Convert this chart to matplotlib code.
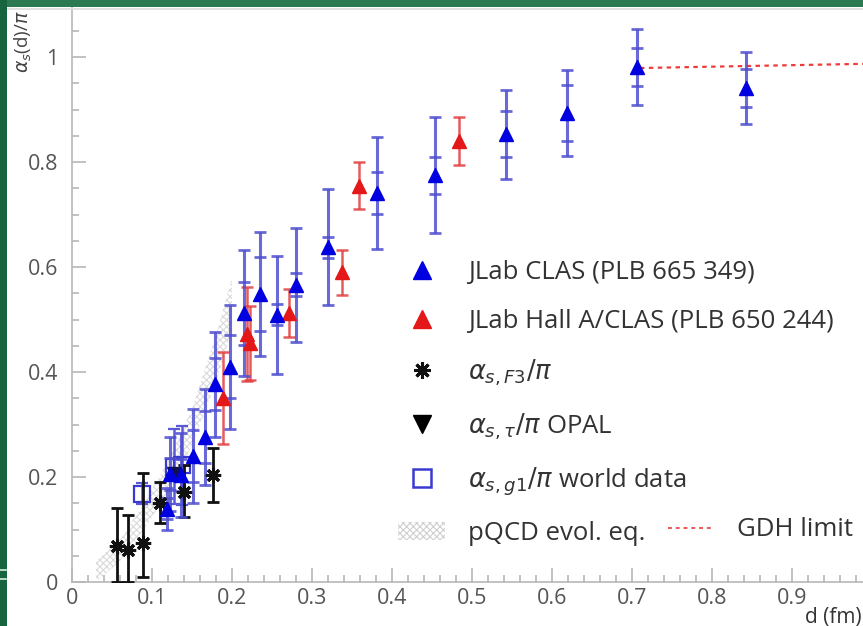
import matplotlib
matplotlib.use('Agg')
import matplotlib.pyplot as plt
from matplotlib.lines import Line2D
from matplotlib.patches import Patch, Rectangle
from matplotlib.ticker import MultipleLocator, FuncFormatter

plt.rcParams['font.family'] = ['Open Sans', 'DejaVu Sans']
plt.rcParams['hatch.linewidth'] = 0.8

# ---------------- data ----------------
# JLab CLAS (PLB 665 349): d, alpha/pi, total error, stat error
clas_d    = [0.8425, 0.706, 0.619, 0.5425, 0.454, 0.381, 0.320, 0.280, 0.256,
             0.235, 0.215, 0.197, 0.179, 0.166, 0.151, 0.136, 0.122, 0.119]
clas_a    = [0.941, 0.981, 0.893, 0.853, 0.775, 0.741, 0.638, 0.566, 0.509,
             0.549, 0.512, 0.410, 0.377, 0.276, 0.240, 0.204, 0.206, 0.140]
clas_tot  = [0.068, 0.073, 0.082, 0.085, 0.110, 0.106, 0.110, 0.108, 0.112,
             0.118, 0.120, 0.118, 0.100, 0.092, 0.090, 0.080, 0.070, 0.040]
clas_stat = [0.036, 0.037, 0.053, 0.044, 0.035, 0.040, 0.020, 0.022, 0.020,
             0.070, 0.060, 0.060, 0.050, 0.050, 0.050, 0.030, 0.030, 0.020]

# JLab Hall A/CLAS (PLB 650 244)
halla_d   = [0.484, 0.359, 0.3375, 0.271, 0.219, 0.222, 0.189]
halla_a   = [0.840, 0.755, 0.590, 0.513, 0.472, 0.455, 0.350]
halla_err = [0.045, 0.045, 0.043, 0.046, 0.090, 0.070, 0.088]

# alpha_s,F3 / pi
f3_d   = [0.056, 0.070, 0.089, 0.110, 0.140, 0.176]
f3_a   = [0.069, 0.061, 0.074, 0.150, 0.171, 0.204]
f3_lo  = [0.069, 0.061, 0.064, 0.038, 0.047, 0.052]
f3_hi  = [0.072, 0.067, 0.134, 0.040, 0.052, 0.051]

# alpha_s,tau / pi OPAL
opal_d   = [0.128]
opal_a   = [0.205]
opal_err = [0.010]

# alpha_s,g1 / pi world data
g1_d   = [0.0875, 0.127, 0.138]
g1_a   = [0.168, 0.220, 0.222]
g1_err = [0.020, 0.072, 0.075]

# pQCD evolution band
pqcd_d  = [0.030, 0.060, 0.090, 0.120, 0.150, 0.180, 0.200]
pqcd_lo = [0.000, 0.040, 0.100, 0.170, 0.260, 0.380, 0.480]
pqcd_hi = [0.040, 0.080, 0.150, 0.230, 0.330, 0.470, 0.580]

# GDH limit
gdh_d = [0.710, 0.990]
gdh_a = [0.979, 0.987]

labels = ['JLab CLAS (PLB 665 349)', 'JLab Hall A/CLAS (PLB 650 244)',
          r'$\alpha_{s,F3}/\pi$', r'$\alpha_{s,\tau}/\pi$ OPAL',
          r'$\alpha_{s,g1}/\pi$ world data', 'pQCD evol. eq.', 'GDH limit']

# ---------------- figure ----------------
W, H = 863, 626
fig = plt.figure(figsize=(W / 100, H / 100), dpi=100)
ax = fig.add_axes([72 / W, 44 / H, (W - 72) / W, (582 - 8) / H])

blue_bar = '#4f4fd0'
blue_mk = '#0000e0'
red_c = '#e41818'

ax.fill_between(pqcd_d, pqcd_lo, pqcd_hi, facecolor='none', edgecolor='#dadada',
                hatch='xxxxx', linewidth=0, zorder=1)

ax.errorbar(g1_d, g1_a, yerr=g1_err, fmt='s', mfc='none', mec='#3a3ad0', mew=1.6,
            ms=11, ecolor='#5a5ad6', elinewidth=1.8, capsize=4, capthick=1.8, zorder=3)

ax.errorbar(f3_d, f3_a, yerr=[f3_lo, f3_hi], fmt='none', ecolor='#111111',
            elinewidth=2, capsize=4, capthick=2, zorder=4)
ax.plot(f3_d, f3_a, linestyle='none', marker=(8, 2, 0), ms=11, mew=2.2,
        color='#111111', zorder=5)

ax.errorbar(opal_d, opal_a, yerr=opal_err, fmt='v', color='#101050', ms=10,
            elinewidth=1.5, capsize=3, zorder=5)

ax.errorbar(halla_d, halla_a, yerr=halla_err, fmt='none', ecolor='#e04040',
            elinewidth=1.8, capsize=4, capthick=1.8, alpha=0.85, zorder=4)
ax.plot(halla_d, halla_a, linestyle='none', marker='^', ms=10, color=red_c, zorder=6)

ax.errorbar(clas_d, clas_a, yerr=clas_tot, fmt='none', ecolor=blue_bar,
            elinewidth=2.2, capsize=4.5, capthick=2, alpha=0.85, zorder=4)
ax.errorbar(clas_d, clas_a, yerr=clas_stat, fmt='none', ecolor=blue_bar,
            elinewidth=0, capsize=4.5, capthick=2, alpha=0.85, zorder=4)
ax.plot(clas_d, clas_a, linestyle='none', marker='^', ms=10, color=blue_mk, zorder=6)

ax.plot(gdh_d, gdh_a, color='#ee3a3a', linestyle=(0, (2, 2)), lw=1.6, zorder=2)

# ---------------- axes styling ----------------
ax.set_xlim(0, (W - 72) / 800)
ax.set_ylim(0, (582 - 8) / 525)
for s in ['top', 'right']:
    ax.spines[s].set_visible(False)
for s in ['left', 'bottom']:
    ax.spines[s].set_color('#b8b8b8')
    ax.spines[s].set_linewidth(1.2)
ax.xaxis.set_major_locator(MultipleLocator(0.1))
ax.xaxis.set_minor_locator(MultipleLocator(0.02))
ax.yaxis.set_major_locator(MultipleLocator(0.2))
ax.yaxis.set_minor_locator(MultipleLocator(0.05))
fmt = FuncFormatter(lambda v, p: '%g' % round(v, 3))
ax.xaxis.set_major_formatter(fmt)
ax.yaxis.set_major_formatter(fmt)
ax.tick_params(which='both', direction='in', color='#b8b8b8', width=1.2,
               labelcolor='#555555', labelsize=15.5)
ax.tick_params(which='major', length=10)
ax.tick_params(which='minor', length=5)
ax.tick_params(axis='y', pad=10)
ax.tick_params(axis='x', pad=4)

ax.set_ylabel(r'$\alpha_s$(d)/$\pi$', fontsize=13.5, color='#444444')
ax.yaxis.label.set(rotation_mode='default', ha='center', va='top')
ax.yaxis.set_label_coords(-0.062, 1.0 - 2 / 574)
ax.set_xlabel('d (fm)', fontsize=15, color='#333333', loc='right')
ax.xaxis.set_label_coords((862 - 72) / (W - 72), -0.043)

# ---------------- legends ----------------
handles = [
    Line2D([], [], linestyle='none', marker='^', ms=13, color=blue_mk),
    Line2D([], [], linestyle='none', marker='^', ms=13, color=red_c),
    Line2D([], [], linestyle='none', marker=(8, 2, 0), ms=12, mew=2.2, color='#111111'),
    Line2D([], [], linestyle='none', marker='v', ms=13, color='#000000'),
    Line2D([], [], linestyle='none', marker='s', ms=13, mfc='none', mec='#3a3ad0', mew=1.8),
    Patch(facecolor='none', edgecolor='#cfcfcf', hatch='xxxxx', linewidth=0),
]
fs_leg = 18.5
em = fs_leg * 100 / 72
leg1 = fig.legend(handles, labels[:6], loc='upper left',
                  bbox_to_anchor=(398 / W, 1 - 260 / H), frameon=False,
                  fontsize=fs_leg, handlelength=47 / em, handleheight=0.7,
                  handletextpad=23 / em, labelspacing=0.92, borderpad=0,
                  borderaxespad=0, labelcolor='#333333')
leg2 = fig.legend([Line2D([], [], color='#ee5555', linestyle=(0, (2, 2)), lw=1.4)],
                  labels[6:], loc='center left',
                  bbox_to_anchor=(668 / W, 1 - 530 / H), frameon=False,
                  fontsize=fs_leg, handlelength=45 / em, handletextpad=24 / em,
                  borderpad=0, borderaxespad=0, labelcolor='#333333')

# ---------------- frame decoration (screenshot border) ----------------
fig.patches.append(Rectangle((0, 1 - 7 / H), 1, 7 / H, transform=fig.transFigure,
                             facecolor='#2b7a52', edgecolor='none', zorder=10))
fig.patches.append(Rectangle((0, 0), 7 / W, 1, transform=fig.transFigure,
                             facecolor='#17643f', edgecolor='none', zorder=11))
fig.lines.append(Line2D([7 / W, 1], [1 - 8.5 / H, 1 - 8.5 / H], transform=fig.transFigure,
                        color='#dcdcdc', lw=1.2, zorder=9))
for yy in (570, 579):
    fig.lines.append(Line2D([0, 6 / W], [1 - yy / H, 1 - yy / H], transform=fig.transFigure,
                            color='#d8eee0', lw=1.2, zorder=12))

fig.savefig('out.png', dpi=100, facecolor='white')
